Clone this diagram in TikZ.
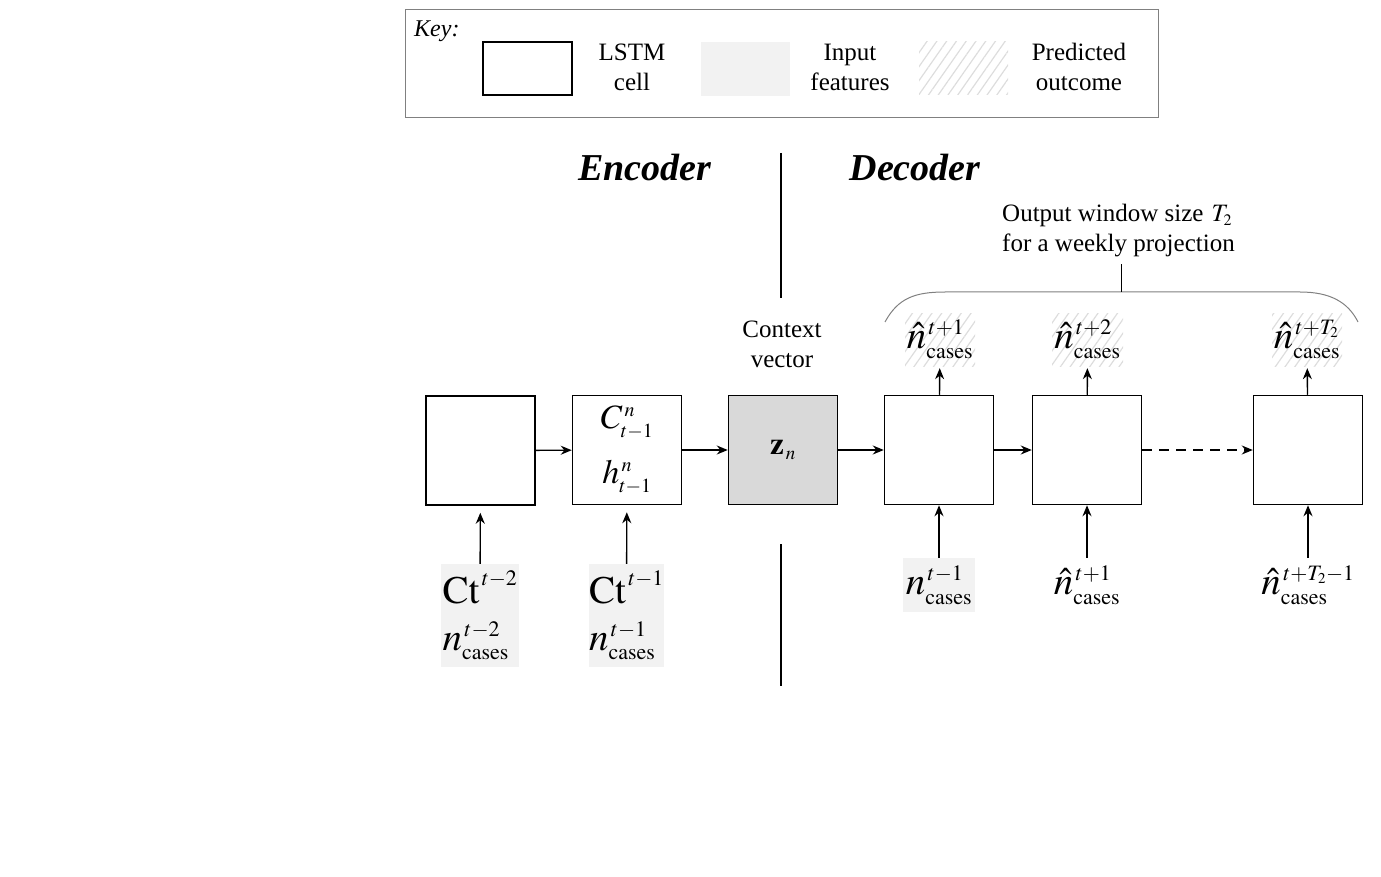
\documentclass[tikz,border=0pt]{standalone}
\usepackage{mathptmx}
\usepackage[no-math]{fontspec}
\setmainfont{Liberation Serif}
\usetikzlibrary{arrows.meta,patterns.meta}
\DeclareMathSizes{39}{39}{22}{15}
\DeclareMathSizes{34}{34}{20}{14}
\DeclareMathSizes{31}{31}{19}{13}
\DeclareMathSizes{25}{25}{16}{12}
\definecolor{featgray}{HTML}{F2F2F2}
\definecolor{zgray}{HTML}{D9D9D9}
\definecolor{hatchgray}{HTML}{DDDDDD}
\definecolor{keyborder}{HTML}{808080}
\tikzset{
  cell/.style={draw, line width=1.5pt, minimum width=109pt, minimum height=109pt, inner sep=0pt},
  feat/.style={fill=featgray, inner sep=0pt},
  pred/.style={pattern={Lines[angle=55,distance=8pt,line width=1.2pt]}, pattern color=hatchgray, inner sep=0pt},
  arr/.style={-{Stealth[length=11pt,width=9pt]}, line width=1.4pt},
  sepline/.style={line width=2.5pt},
  txt/.style={font=\fontsize{25}{30}\selectfont, align=center, inner sep=0pt},
  mth/.style={font=\fontsize{39}{46}\selectfont, inner sep=0pt},
  title/.style={font=\fontsize{38}{44}\selectfont\bfseries\itshape, inner sep=0pt}
}
\begin{document}
\begin{tikzpicture}[x=1pt,y=-1pt]
\useasboundingbox (0,0) rectangle (1381,877);
% Key
\node[draw=keyborder, line width=1pt, minimum width=753pt, minimum height=108pt, inner sep=0pt] (key) at (781.5,64) {};
\node[txt, font=\fontsize{24}{28}\selectfont\itshape, anchor=west] (keylbl) at (414,31) {Key:};
\node[draw, line width=1.5pt, minimum width=89pt, minimum height=53pt, inner sep=0pt] (klstm) at (527.5,68.5) {};
\node[txt] (klstmt) at (632,67) {LSTM\\cell};
\node[feat, minimum width=89pt, minimum height=54pt] (kfeat) at (745.5,69) {};
\node[txt] (kfeatt) at (850,67) {Input\\features};
\node[pred, minimum width=89pt, minimum height=53pt] (kpred) at (963.5,68.5) {};
\node[txt] (kpredt) at (1079,67) {Predicted\\outcome};
% titles
\node[title] (enc) at (645,168) {Encoder};
\node[title] (dec) at (915,168) {Decoder};
\coordinate (s1a) at (781,153); \coordinate (s1b) at (781,298);
\coordinate (s2a) at (781,544); \coordinate (s2b) at (781,686);
\draw[sepline] (s1a) -- (s1b);
\draw[sepline] (s2a) -- (s2b);
\node[txt] (ctx) at (782,344) {Context\\vector};
\node[txt, align=left, anchor=west] (owin) at (1002,231) {Output window size\hspace{8pt}$T_2$\\for a weekly projection};
% brace
\coordinate (bl) at (885,322); \coordinate (br) at (1358,322);
\coordinate (bm) at (1121,292); \coordinate (bt) at (1121,264);
\draw[keyborder, line width=1pt] (bl) .. controls (898,298) and (915,292) .. (945,292) -- (1300,292) .. controls (1330,292) and (1348,302) .. (br);
\draw[line width=1pt] (bm) -- (bt);
% cells
\node[cell] (b1) at (480.5,450.5) {};
\node[cell, align=center, font=\fontsize{34}{55}\selectfont] (b2) at (627,450) {$C^{\,n}_{t-1}$\\$h^{\,n}_{t-1}$};
\node[cell, fill=zgray, font=\fontsize{31}{36}\selectfont] (z) at (783,450) {$\mathbf{z}_{\,n}$};
\node[cell] (d1) at (939,450) {};
\node[cell] (d2) at (1087,450) {};
\node[cell] (d3) at (1308,450) {};
\draw[arr] (b1) -- (b2);
\draw[arr] (b2) -- (z);
\draw[arr] (z) -- (d1);
\draw[arr] (d1) -- (d2);
\draw[arr, dashed, dash pattern=on 10pt off 7pt] (d2) -- (d3);
% encoder inputs
\node[feat, mth, minimum width=78pt, minimum height=103pt, align=left, font=\fontsize{39}{47}\selectfont] (in1) at (480,615.5) {$\mathrm{Ct}^{\,t-2}$\\$n^{\,t-2}_{\mathrm{cases}}$};
\node[feat, mth, minimum width=73pt, minimum height=103pt, align=left, font=\fontsize{39}{47}\selectfont] (in2) at (626.5,615.5) {$\mathrm{Ct}^{\,t-1}$\\$n^{\,t-1}_{\mathrm{cases}}$};
\draw[arr, shorten >=7pt] (in1) -- (b1);
\draw[arr, shorten >=7pt] (in2) -- (b2);
% decoder inputs
\node[feat, mth, minimum width=72pt, minimum height=54pt] (di1) at (939,585) {$n^{\,t-1}_{\mathrm{cases}}$};
\node[mth, minimum width=72pt, minimum height=54pt] (di2) at (1087,585) {$\hat{n}^{\,t+1}_{\mathrm{cases}}$};
\node[mth, minimum width=72pt, minimum height=54pt] (di3) at (1308,585) {$\hat{n}^{\,t+T_2-1}_{\mathrm{cases}}$};
\draw[arr] (di1) -- (d1);
\draw[arr] (di2) -- (d2);
\draw[arr] (di3) -- (d3);
% decoder outputs
\node[pred, mth, minimum width=70pt, minimum height=53pt] (o1) at (940,339.5) {$\hat{n}^{\,t+1}_{\mathrm{cases}}$};
\node[pred, mth, minimum width=71pt, minimum height=53pt] (o2) at (1087.5,339.5) {$\hat{n}^{\,t+2}_{\mathrm{cases}}$};
\node[pred, mth, minimum width=70pt, minimum height=53pt] (o3) at (1307,339.5) {$\hat{n}^{\,t+T_2}_{\mathrm{cases}}$};
\draw[arr, shorten >=2pt] (d1) -- (o1);
\draw[arr, shorten >=2pt] (d2) -- (o2);
\draw[arr, shorten >=2pt] (d3) -- (o3);
\end{tikzpicture}
\end{document}
